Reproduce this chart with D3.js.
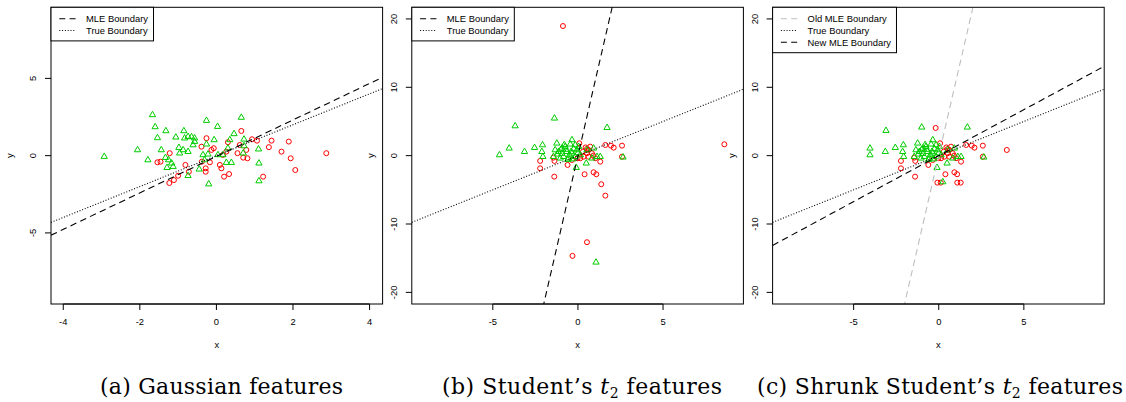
<!DOCTYPE html>
<html>
<head>
<meta charset="utf-8">
<script src="https://cdnjs.cloudflare.com/ajax/libs/d3/7.8.5/d3.min.js"></script>
<style>
	body { margin: 0; background: #fff; }
	svg { display: block; }
	text { font-family: 'Liberation Sans', Arial, sans-serif; font-size: 9.4px; fill: #000; }
	text.caption { font-family: 'DejaVu Serif', serif; font-size: 22px; }
</style>
</head>
<body>
<svg id="chart" width="1126" height="402"></svg>
<script>

// (a) gaussian features, [x, y]
var gaussRed = [
	[0.65,1.60],[-0.26,1.13],[-0.39,0.58],[-0.13,0.37],[-0.07,0.48],[-1.22,0.16],[-1.54,-0.43],[-1.46,-0.39],
	[-0.81,-0.60],[-1.00,-1.30],[-1.11,-1.58],[-1.23,-1.77],[-0.72,-1.04],[-0.38,-0.39],[-0.28,-0.82],[-0.28,-1.04],
	[-0.17,-0.43],[0.09,-0.60],[0.13,-0.82],[0.20,-1.36],[0.33,-1.19],[0.17,0.05],[0.26,0.26],[0.30,0.87],
	[0.55,0.16],[0.61,0.69],[0.78,0.37],[0.81,-0.17],[0.70,-0.13],[0.93,1.06],[1.06,0.97],[1.44,0.97],
	[1.37,0.55],[1.70,0.26],[1.89,0.91],[1.94,-0.17],[2.06,-0.93],[2.87,0.16],[1.22,-1.36]
];
var gaussGreen = [
	[-2.93,-0.06],[-1.67,2.64],[-1.60,1.86],[-1.32,1.60],[-1.54,1.15],[-2.06,0.37],[-1.79,-0.28],[-1.44,0.37],
	[-1.06,1.19],[-0.85,1.60],[-0.83,1.13],[-0.74,1.23],[-0.65,1.21],[-0.57,1.13],[-0.98,0.52],[-0.87,0.37],
	[-0.96,0.16],[-0.74,0.26],[-0.61,0.69],[-0.57,0.91],[-1.33,-0.13],[-1.25,-0.28],[-1.17,-0.49],[-1.13,-0.71],
	[-1.29,-0.78],[-0.74,-1.30],[-0.26,2.27],[0.03,1.88],[-0.06,1.02],[-0.26,0.74],[-0.35,0.05],[-0.22,0.09],
	[-0.31,-0.28],[-0.45,-0.88],[-0.20,-1.84],[0.04,0.05],[0.17,0.05],[0.26,-0.45],[0.39,-0.45],[0.35,1.02],
	[0.46,1.41],[0.65,2.47],[0.72,1.06],[0.72,0.63],[0.70,0.16],[1.10,0.42],[1.11,-0.49],[1.11,-1.64],[0.30,0.48]
];

// (b) and (c): points that look the same in both panels
var studentRed = [
	[0.08,1.81],[0.53,0.98],[0.72,1.32],[0.53,0.35],[0.33,-0.15],[0.62,-0.15],[0.14,-0.38],[1.61,1.56],
	[1.94,1.46],[2.10,1.17],[2.59,1.46],[2.59,-0.15],[-1.44,-0.29],[-1.38,-0.77],[-2.22,-0.77],[-2.22,-1.85],
	[-1.39,-3.07],[-0.61,-1.36],[-0.35,-0.63],[-0.02,-0.38],[0.39,-2.72],[0.92,-2.43],[1.08,-2.72],[0.82,0.35],
	[1.31,-0.88],[0.30,0.60],[0.90,0.00],[0.45,1.20],[1.02,-0.38],[0.62,0.83]
];
var studentGreen = [
	[-4.04,1.08],[-3.14,0.58],[-2.55,1.17],[-2.08,1.56],[-2.12,0.58],[-2.06,-0.15],[-1.24,1.81],[-1.34,0.83],
	[-1.14,0.58],[-0.94,1.08],[-0.75,1.32],[-0.35,2.30],[-0.45,1.67],[-0.16,1.56],[-0.65,0.58],[-0.35,0.35],
	[-0.85,-0.15],[-1.04,-0.38],[-0.55,-0.38],[-0.16,-0.15],[-0.06,0.83],[0.04,1.32],[0.53,0.83],[0.92,1.08],
	[1.12,-0.15],[1.31,-0.15],[0.82,-0.38],[0.49,-1.11],[-0.10,-1.75],[2.65,-0.23],[-1.44,-0.15],[0.14,0.10],
	[-0.95,0.30],[-0.70,0.90],[-0.50,0.10],[-0.25,1.00],[-1.20,0.20],[-0.80,1.60],[-0.30,-0.50],[-0.60,-0.60],
	[-1.00,0.90],[0.00,0.40],[-0.40,0.60]
];

// (b) outliers, and where they sit after shrinking in (c)
var studentRedOut = [ [-0.88,18.96],[-0.32,-14.66],[0.53,-12.66],[8.60,1.66],[1.61,-5.85],[1.37,-4.18] ];
var studentGreenOut = [ [-4.61,0.10],[-3.69,4.34],[-1.38,5.47],[1.71,4.09],[1.06,-15.60] ];
var shrunkRedOut = [ [-0.18,4.05],[-0.08,-3.95],[0.12,-3.95],[4.00,0.83],[1.09,-3.95],[1.29,-3.95] ];
var shrunkGreenOut = [ [-4.04,0.10],[-3.10,3.66],[-1.00,4.15],[1.68,4.15],[0.24,-3.85] ];

// boundaries as [intercept, slope]
var trueBoundary = [ 0, 1 ];
var gaussMle = [ -0.05, 1.18 ];
var studentMle = [ 0, 10.8 ];
var shrunkMle = [ 0, 1.345 ];

var gaussXTicks = [ -4, -2, 0, 2, 4 ];
var gaussYTicks = [ -5, 0, 5 ];
var studentXTicks = [ -5, 0, 5 ];
var studentYTicks = [ -20, -10, 0, 10, 20 ];

var DASH = '6.5,4.3';
var DOT = '1,1.8';

var panels = [
	{
		xDomain: [ -4.32, 4.34 ], yDomain: [ -9.6, 9.6 ],
		xTicks: gaussXTicks, yTicks: gaussYTicks,
		red: gaussRed, green: gaussGreen,
		lines: [
			{ coef: gaussMle, dash: DASH, color: '#000', label: 'MLE Boundary' },
			{ coef: trueBoundary, dash: DOT, color: '#000', label: 'True Boundary' }
		],
		caption: [ [ '(a) Gaussian features' ] ],
		capX: 221.5, capW: 243
	},
	{
		xDomain: [ -9.76, 9.72 ], yDomain: [ -21.7, 21.7 ],
		xTicks: studentXTicks, yTicks: studentYTicks,
		red: studentRed.concat( studentRedOut ), green: studentGreen.concat( studentGreenOut ),
		lines: [
			{ coef: studentMle, dash: DASH, color: '#000', label: 'MLE Boundary' },
			{ coef: trueBoundary, dash: DOT, color: '#000', label: 'True Boundary' }
		],
		caption: [ [ '(b) Student\u2019s ' ], [ 't', 'it' ], [ '2', 'sub' ], [ ' features' ] ],
		capX: 582, capW: 280
	},
	{
		xDomain: [ -9.76, 9.72 ], yDomain: [ -21.7, 21.7 ],
		xTicks: studentXTicks, yTicks: studentYTicks,
		red: studentRed.concat( shrunkRedOut ), green: studentGreen.concat( shrunkGreenOut ),
		lines: [
			{ coef: studentMle, dash: DASH, color: '#BEBEBE', label: 'Old MLE Boundary' },
			{ coef: trueBoundary, dash: DOT, color: '#000', label: 'True Boundary' },
			{ coef: shrunkMle, dash: DASH, color: '#000', label: 'New MLE Boundary' }
		],
		caption: [ [ '(c) Shrunk Student\u2019s ' ], [ 't', 'it' ], [ '2', 'sub' ], [ ' features' ] ],
		capX: 940, capW: 366
	}
];

var svg = d3.select( '#chart' );
var boxW = 331.6, boxTop = 7.3, boxBottom = 304;

panels.forEach( function ( p, i ) {

	var left = 51 + i * 360.8;
	var right = left + boxW;

	var x = d3.scaleLinear().domain( p.xDomain ).range( [ left, right ] );
	var y = d3.scaleLinear().domain( p.yDomain ).range( [ boxBottom, boxTop ] );

	var g = svg.append( 'g' );

	svg.append( 'clipPath' ).attr( 'id', 'clip' + i )
		.append( 'rect' )
		.attr( 'x', left ).attr( 'y', boxTop )
		.attr( 'width', boxW ).attr( 'height', boxBottom - boxTop );

	// points
	g.selectAll( 'circle' )
		.data( p.red )
		.enter()
		.append( 'circle' )
		.attr( 'cx', function ( d ) { return x( d[0] ); } )
		.attr( 'cy', function ( d ) { return y( d[1] ); } )
		.attr( 'r', 2.5 )
		.style( 'fill', 'none' )
		.style( 'stroke', '#FF0000' )
		.style( 'stroke-width', 1 );

	g.selectAll( 'path.tri' )
		.data( p.green )
		.enter()
		.append( 'path' )
		.classed( 'tri', true )
		.attr( 'd', d3.symbol().type( d3.symbolTriangle ).size( 17 ) )
		.attr( 'transform', function ( d ) {
			return 'translate(' + x( d[0] ) + ',' + y( d[1] ) + ')';
		} )
		.style( 'fill', 'none' )
		.style( 'stroke', '#00CD00' )
		.style( 'stroke-width', 1 );

	// boundaries
	g.append( 'g' ).attr( 'clip-path', 'url(#clip' + i + ')' )
		.selectAll( 'line' )
		.data( p.lines )
		.enter()
		.append( 'line' )
		.attr( 'x1', x( p.xDomain[0] ) )
		.attr( 'x2', x( p.xDomain[1] ) )
		.attr( 'y1', function ( d ) { return y( d.coef[0] + d.coef[1] * p.xDomain[0] ); } )
		.attr( 'y2', function ( d ) { return y( d.coef[0] + d.coef[1] * p.xDomain[1] ); } )
		.style( 'stroke', function ( d ) { return d.color; } )
		.style( 'stroke-width', 1.1 )
		.style( 'stroke-dasharray', function ( d ) { return d.dash; } );

	// frame
	g.append( 'rect' )
		.attr( 'x', left ).attr( 'y', boxTop )
		.attr( 'width', boxW ).attr( 'height', boxBottom - boxTop )
		.style( 'fill', 'none' )
		.style( 'stroke', '#000' )
		.style( 'stroke-width', 1 );

	// axes
	var xAxis = g.append( 'g' ).attr( 'transform', 'translate(0,' + boxBottom + ')' );
	xAxis.append( 'line' )
		.attr( 'x1', x( p.xTicks[0] ) ).attr( 'x2', x( p.xTicks[p.xTicks.length - 1] ) )
		.style( 'stroke', '#000' );
	xAxis.selectAll( 'line.tick' )
		.data( p.xTicks )
		.enter()
		.append( 'line' )
		.classed( 'tick', true )
		.attr( 'x1', x ).attr( 'x2', x )
		.attr( 'y1', 0 ).attr( 'y2', 6 )
		.style( 'stroke', '#000' );
	xAxis.selectAll( 'text' )
		.data( p.xTicks )
		.enter()
		.append( 'text' )
		.attr( 'x', x )
		.attr( 'y', 21 )
		.attr( 'text-anchor', 'middle' )
		.text( function ( d ) { return d; } );

	var yAxis = g.append( 'g' ).attr( 'transform', 'translate(' + left + ',0)' );
	yAxis.selectAll( 'line.tick' )
		.data( p.yTicks )
		.enter()
		.append( 'line' )
		.classed( 'tick', true )
		.attr( 'y1', y ).attr( 'y2', y )
		.attr( 'x1', 0 ).attr( 'x2', -6 )
		.style( 'stroke', '#000' );
	yAxis.selectAll( 'text' )
		.data( p.yTicks )
		.enter()
		.append( 'text' )
		.attr( 'transform', function ( d ) { return 'translate(-15,' + y( d ) + ') rotate(-90)'; } )
		.attr( 'text-anchor', 'middle' )
		.text( function ( d ) { return d; } );

	g.append( 'text' )
		.attr( 'x', ( left + right ) / 2 )
		.attr( 'y', boxBottom + 43.5 )
		.attr( 'text-anchor', 'middle' )
		.text( 'x' );
	g.append( 'text' )
		.attr( 'transform', 'translate(' + ( left - 37.8 ) + ',' + y( 0 ) + ') rotate(-90)' )
		.attr( 'text-anchor', 'middle' )
		.text( 'y' );

	// legend
	var leg = g.append( 'g' );
	var legRect = leg.append( 'rect' )
		.attr( 'x', left ).attr( 'y', boxTop )
		.attr( 'height', 10 + p.lines.length * 11.8 )
		.style( 'fill', '#fff' )
		.style( 'stroke', '#000' )
		.style( 'stroke-width', 1 );
	var rows = leg.selectAll( 'g.row' )
		.data( p.lines )
		.enter()
		.append( 'g' )
		.classed( 'row', true )
		.attr( 'transform', function ( d, k ) { return 'translate(' + left + ',' + ( boxTop + 11.4 + k * 11.8 ) + ')'; } );
	rows.append( 'line' )
		.attr( 'x1', 8.3 ).attr( 'x2', 25 )
		.style( 'stroke', function ( d ) { return d.color; } )
		.style( 'stroke-width', 1.1 )
		.style( 'stroke-dasharray', function ( d ) { return d.dash === DASH ? '6,4.3' : d.dash; } );
	var labels = rows.append( 'text' )
		.attr( 'x', 35 )
		.attr( 'y', 3.3 )
		.text( function ( d ) { return d.label; } );
	var maxW = d3.max( labels.nodes(), function ( n ) { return n.getComputedTextLength(); } );
	legRect.attr( 'width', 35 + maxW + 5.5 );

	// caption
	var cap = svg.append( 'text' )
		.classed( 'caption', true )
		.attr( 'x', p.capX )
		.attr( 'y', 394 )
		.attr( 'text-anchor', 'middle' )
		.attr( 'textLength', p.capW )
		.attr( 'lengthAdjust', 'spacing' );
	p.caption.forEach( function ( part ) {
		var t = cap.append( 'tspan' ).text( part[0] );
		if ( part[1] === 'it' ) t.style( 'font-style', 'italic' );
		if ( part[1] === 'sub' ) t.style( 'font-size', '14px' ).attr( 'dy', 4 );
		if ( part[0] === ' features' ) t.attr( 'dy', -4 );
	} );

} );

</script>
</body>
</html>
